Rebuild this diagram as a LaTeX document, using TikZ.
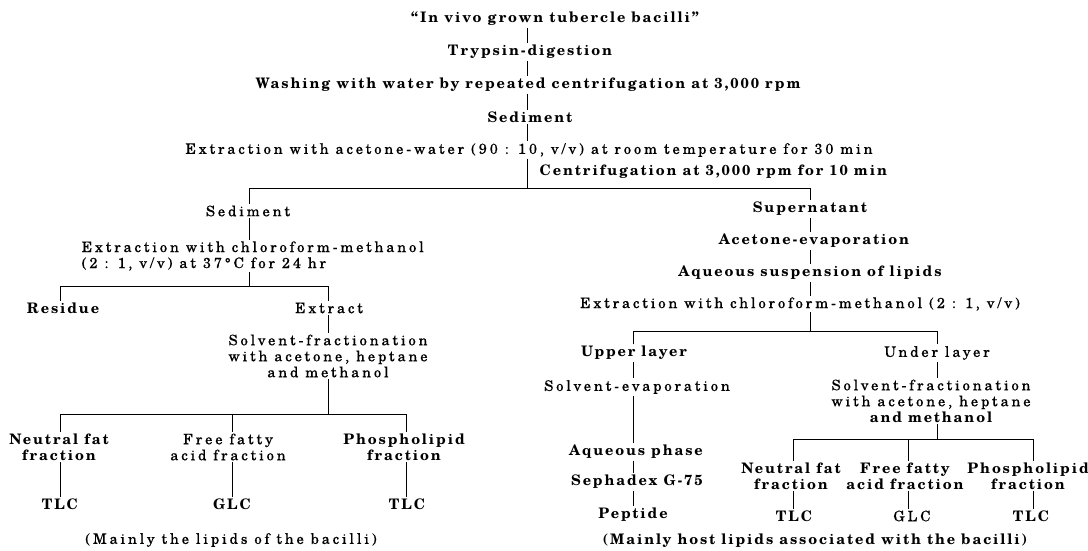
\documentclass[tikz,border=0pt]{standalone}
\usepackage{fontspec}
\newfontfamily\regfont{texgyreschola-regular}[Extension=.otf, Ligatures=TeX, LetterSpace=20, FakeBold=0.2]
\newfontfamily\bldfont{texgyreschola-bold}[Extension=.otf, Ligatures=TeX, LetterSpace=13]
\begin{document}
\begin{tikzpicture}[x=1pt,y=-1pt,
  boldtxt/.style={font=\fontsize{14.5}{16}\selectfont\bldfont, inner sep=1.5pt, align=center},
  regtxt/.style={font=\fontsize{14.5}{16}\selectfont\regfont, inner sep=1.5pt, align=center},
  link/.style={line width=0.9pt, black}]
\fill[white] (0,0) rectangle (1088,551);
\useasboundingbox (0,0) rectangle (1088,551);

% ---------- top trunk ----------
\coordinate (trunk) at (527,0);
\node[boldtxt] (t1) at (555,19) {``In vivo grown tubercle bacilli''};
\node[boldtxt] (t2) at (530,52) {Trypsin-digestion};
\node[boldtxt] (t3) at (528,85) {Washing with water by repeated centrifugation at 3,000 rpm};
\node[boldtxt] (t4) at (530,117) {Sediment};
\node[regtxt] (t5) at (529,150) {Extraction with acetone-water (90 : 10, v/v) at room temperature for 30 min};
\node[boldtxt, anchor=west] (t6) at (538,172) {Centrifugation at 3,000 rpm for 10 min};

\draw[link] (t1.south -| trunk) -- (t2.north -| trunk);
\draw[link] (t2.south -| trunk) -- (t3.north -| trunk);
\draw[link] (t3.south -| trunk) -- (t4.north -| trunk);
\draw[link] (t4.south -| trunk) -- (t5.north -| trunk);

\coordinate (bl) at (249,188);
\coordinate (br) at (810,188);
\draw[link] (t5.south -| trunk) -- (trunk |- bl);

% ---------- left branch ----------
\node[regtxt] (l1) at (248,211) {Sediment};
\node[regtxt, align=left, anchor=west] (l2) at (80,256) {Extraction with chloroform-methanol\\(2 : 1, v/v) at 37°C for 24 hr};
\node[boldtxt] (l3) at (63,308) {Residue};
\node[regtxt] (l4) at (329,308) {Extract};
\node[regtxt] (l5) at (328,356) {Solvent-fractionation\\with acetone, heptane\\and methanol};
\node[boldtxt] (l6) at (59,447) {Neutral fat\\fraction};
\node[regtxt] (l7) at (228,447) {Free fatty\\acid fraction};
\node[boldtxt] (l8) at (404,447) {Phospholipid\\fraction};
\node[boldtxt] (l9) at (60,504) {TLC};
\node[boldtxt] (l10) at (232,504) {GLC};
\node[boldtxt] (l11) at (407,504) {TLC};
\node[regtxt] (l12) at (231,540) {(Mainly the lipids of the bacilli)};

\draw[link] (l1.north -| bl) -- (bl) -- (br);
\coordinate (s1) at (60,286);
\coordinate (s2) at (328,286);
\draw[link] (l1.south -| bl) -- (l2.north -| bl);
\draw[link] (l2.south -| bl) -- (bl |- s1);
\draw[link] (l3.north -| s1) -- (s1) -- (s2) -- (l4.north -| s2);
\draw[link] (l4.south -| s2) -- (l5.north -| s2);
\coordinate (f1) at (60,414);
\coordinate (f2) at (232,414);
\coordinate (f3) at (406,414);
\draw[link] (l5.south -| s2) -- (s2 |- f1);
\draw[link] (l6.north -| f1) -- (f1) -- (f3) -- (l8.north -| f3);
\draw[link] (f2) -- (l7.north -| f2);
\draw[link] (l6.south -| f1) -- (l9.north -| f1);
\draw[link] (l7.south -| f2) -- (l10.north -| f2);
\draw[link] (l8.south -| f3) -- (l11.north -| f3);

% ---------- right branch ----------
\node[boldtxt] (r1) at (810,209) {Supernatant};
\node[boldtxt] (r2) at (814,241) {Acetone-evaporation};
\node[boldtxt] (r3) at (810,273) {Aqueous suspension of lipids};
\node[regtxt] (r4) at (800,304) {Extraction with chloroform-methanol (2 : 1, v/v)};
\node[boldtxt] (r5) at (634,353) {Upper layer};
\node[regtxt] (r6) at (937,353) {Under layer};
\node[regtxt] (r7) at (637,387) {Solvent-evaporation};
\node[boldtxt] (r8) at (636,452) {Aqueous phase};
\node[boldtxt] (r9) at (637,482) {Sephadex G-75};
\node[boldtxt] (r10) at (633,515) {Peptide};
\node[regtxt] (r11) at (931,401) {Solvent-fractionation\\with acetone, heptane\\{\bldfont and methanol}};
\node[boldtxt] (r12) at (791,476) {Neutral fat\\fraction};
\node[boldtxt] (r13) at (905,476) {Free fatty\\acid fraction};
\node[boldtxt] (r14) at (1028,476) {Phospholipid\\fraction};
\node[boldtxt] (r15) at (794,516) {TLC};
\node[regtxt] (r16) at (912,516) {GLC};
\node[boldtxt] (r17) at (1031,516) {TLC};
\node[boldtxt] (r18) at (815,541) {(Mainly host lipids associated with the bacilli)};

\draw[link] (br) -- (r1.north -| br);
\draw[link] (r1.south -| br) -- (r2.north -| br);
\draw[link] (r2.south -| br) -- (r3.north -| br);
\draw[link] (r3.south -| br) -- (r4.north -| br);
\coordinate (u1) at (633,331);
\coordinate (u2) at (937,331);
\draw[link] (r4.south -| br) -- (br |- u1);
\draw[link] (r5.north -| u1) -- (u1) -- (u2) -- (r6.north -| u2);
\draw[link] (r5.south -| u1) -- (r7.north -| u1);
\draw[link] (r7.south -| u1) -- (r8.north -| u1);
\draw[link] (r8.south -| u1) -- (r9.north -| u1);
\draw[link] (r9.south -| u1) -- (r10.north -| u1);
\draw[link] (r6.south -| u2) -- (r11.north -| u2);
\coordinate (g1) at (793,439);
\coordinate (g2) at (908,439);
\coordinate (g3) at (1033,439);
\draw[link] (r11.south -| u2) -- (u2 |- g1);
\draw[link] (r12.north -| g1) -- (g1) -- (g3) -- (r14.north -| g3);
\draw[link] (g2) -- (r13.north -| g2);
\draw[link] (r12.south -| g1) -- (r15.north -| g1);
\draw[link] (r13.south -| g2) -- (r16.north -| g2);
\draw[link] (r14.south -| g3) -- (r17.north -| g3);
\end{tikzpicture}
\end{document}
